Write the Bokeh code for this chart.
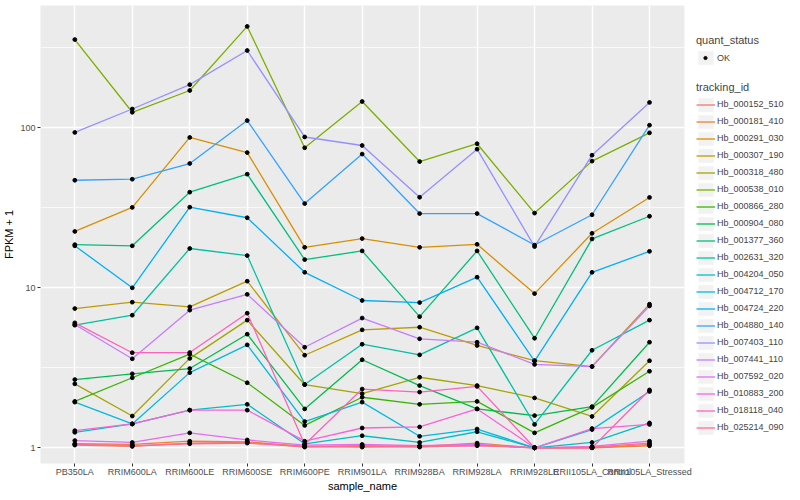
from bokeh.plotting import figure
from bokeh.layouts import row
from bokeh.models import (Range1d, FixedTicker, Legend, LegendItem, NumeralTickFormatter)
from bokeh.embed import file_html
from bokeh.resources import INLINE

samples = ["PB350LA", "RRIM600LA", "RRIM600LE", "RRIM600SE", "RRIM600PE", "RRIM901LA",
           "RRIM928BA", "RRIM928LA", "RRIM928LE", "RRII105LA_Control", "RRII105LA_Stressed"]

tracking_ids = ["Hb_000152_510", "Hb_000181_410", "Hb_000291_030", "Hb_000307_190",
                "Hb_000318_480", "Hb_000538_010", "Hb_000866_280", "Hb_000904_080",
                "Hb_001377_360", "Hb_002631_320", "Hb_004204_050", "Hb_004712_170",
                "Hb_004724_220", "Hb_004880_140", "Hb_007403_110", "Hb_007441_110",
                "Hb_007592_020", "Hb_010883_200", "Hb_018118_040", "Hb_025214_090"]

colors = ["#F8766D", "#EA8331", "#D89000", "#C09B00", "#A3A500", "#7CAE00", "#39B600",
          "#00BB4E", "#00BF7D", "#00C1A3", "#00BFC4", "#00BAE0", "#00B0F6", "#35A2FF",
          "#9590FF", "#C77CFF", "#E76BF3", "#FA62DB", "#FF62BC", "#FF6C91"]

Hb_000152_510 = [1.04, 1.02, 1.07, 1.08, 1.01, 1.02, 1.01, 1.04, 1.00, 1.00, 1.05]
Hb_000181_410 = [1.06, 1.05, 1.10, 1.09, 1.02, 1.03, 1.02, 1.07, 1.00, 1.00, 1.03]
Hb_000291_030 = [22.5, 31.8, 87.0, 70.0, 17.9, 20.3, 17.9, 18.7, 9.2, 21.9, 36.7]
Hb_000307_190 = [7.42, 8.13, 7.6, 11.0, 3.79, 5.46, 5.67, 4.36, 3.51, 3.22, 7.9]
Hb_000318_480 = [2.51, 1.58, 3.62, 6.28, 2.48, 2.18, 2.76, 2.45, 2.05, 1.57, 3.5]
Hb_000538_010 = [356.0, 125.0, 171.0, 430.0, 75.0, 146.0, 61.5, 79.5, 29.3, 61.9, 93.0]
Hb_000866_280 = [1.95, 2.74, 3.85, 2.55, 1.38, 2.07, 1.87, 1.95, 1.24, 1.79, 3.01]
Hb_000904_080 = [2.67, 2.9, 3.13, 5.13, 1.75, 3.55, 2.45, 1.75, 1.59, 1.81, 4.57]
Hb_001377_360 = [18.6, 18.3, 39.6, 51.3, 15.0, 17.0, 6.6, 17.0, 4.84, 20.2, 28.0]
Hb_002631_320 = [5.84, 6.74, 17.6, 15.9, 2.49, 4.44, 3.81, 5.62, 1.4, 4.07, 6.28]
Hb_004204_050 = [1.25, 1.41, 1.72, 1.87, 1.06, 1.19, 1.08, 1.26, 1.0, 1.08, 1.43]
Hb_004712_170 = [1.93, 1.41, 2.95, 4.4, 1.46, 1.93, 1.18, 1.31, 1.0, 1.30, 2.25]
Hb_004724_220 = [18.3, 10.0, 31.9, 27.4, 12.5, 8.33, 8.09, 11.65, 3.48, 12.5, 16.9]
Hb_004880_140 = [47.0, 47.7, 59.8, 111.0, 33.6, 68.5, 29.1, 29.1, 18.5, 28.6, 103.8]
Hb_007403_110 = [93.5, 131.0, 186.0, 304.0, 87.6, 77.5, 36.8, 73.5, 18.1, 67.4, 144.0]
Hb_007441_110 = [5.9, 3.6, 7.25, 9.1, 4.25, 6.47, 4.8, 4.57, 3.32, 3.22, 7.7]
Hb_007592_020 = [1.11, 1.08, 1.24, 1.12, 1.04, 1.05, 1.03, 1.05, 1.0, 1.02, 1.1]
Hb_010883_200 = [1.28, 1.41, 1.72, 1.72, 1.10, 1.33, 1.35, 1.75, 1.0, 1.32, 1.40]
Hb_018118_040 = [6.04, 3.93, 3.94, 6.94, 1.05, 2.33, 2.23, 2.42, 1.0, 1.0, 2.3]
Hb_025214_090 = [1.05, 1.03, 1.06, 1.07, 1.02, 1.01, 1.02, 1.03, 1.0, 1.01, 1.07]

series = [Hb_000152_510, Hb_000181_410, Hb_000291_030, Hb_000307_190, Hb_000318_480,
          Hb_000538_010, Hb_000866_280, Hb_000904_080, Hb_001377_360, Hb_002631_320,
          Hb_004204_050, Hb_004712_170, Hb_004724_220, Hb_004880_140, Hb_007403_110,
          Hb_007441_110, Hb_007592_020, Hb_010883_200, Hb_018118_040, Hb_025214_090]

y_ticks = [1, 10, 100]
y_minor = [0.3162, 3.162, 31.62, 316.2]

FONT = "Liberation Sans"
FW, FH = 644, 458
PX_PER_CAT = 57.47
X0 = -0.597

xs = list(range(len(samples)))
p = figure(frame_width=FW, frame_height=FH, y_axis_type="log",
           x_range=Range1d(X0, X0 + FW / PX_PER_CAT),
           y_range=Range1d(0.798, 581),
           output_backend="svg", toolbar_location=None,
           min_border_left=0, min_border_top=5, min_border_bottom=0, min_border_right=12,
           background_fill_color="#EBEBEB", border_fill_color="white")
p.outline_line_color = None

p.xgrid.ticker = FixedTicker(ticks=xs)
p.xgrid.grid_line_color = "white"
p.xgrid.grid_line_width = 1.4
p.ygrid.grid_line_color = "white"
p.ygrid.grid_line_width = 1.4
p.ygrid.minor_grid_line_color = "white"
p.ygrid.minor_grid_line_width = 0.7

p.xaxis.ticker = FixedTicker(ticks=xs)
p.xaxis.major_label_overrides = {i: s for i, s in enumerate(samples)}
p.yaxis.ticker = FixedTicker(ticks=y_ticks, minor_ticks=y_minor)
p.yaxis.formatter = NumeralTickFormatter(format="0")
for ax in (p.xaxis[0], p.yaxis[0]):
    ax.axis_line_color = None
    ax.major_tick_in = 0
    ax.major_tick_out = 3
    ax.major_tick_line_color = "#333333"
    ax.minor_tick_line_color = None
    ax.major_label_text_font = FONT
    ax.major_label_text_font_size = "9px"
    ax.major_label_text_color = "#4D4D4D"
    ax.axis_label_text_font = FONT
    ax.axis_label_text_font_size = "11px"
    ax.axis_label_text_font_style = "normal"
    ax.axis_label_text_color = "black"
p.xaxis.major_label_standoff = 0
p.xaxis.axis_label_standoff = 0
p.yaxis.major_label_standoff = 1
p.yaxis.axis_label_standoff = 2
p.xaxis.axis_label = "sample_name"
p.yaxis.axis_label = "FPKM + 1"

line_renderers = []
for vals, c in zip(series, colors):
    r = p.line(xs, vals, line_color=c, line_width=1.3)
    line_renderers.append(r)

all_x = [x for _ in series for x in xs]
all_y = [v for vals in series for v in vals]
p.scatter(all_x, all_y, size=3.8, color="black")

# ---- legend panel ----
LH = 484
lf = figure(width=96, height=LH, x_range=Range1d(0, 1), y_range=Range1d(0, 1),
            output_backend="svg", toolbar_location=None,
            x_axis_location=None, y_axis_location=None,
            min_border=0, min_border_left=0, min_border_right=0,
            min_border_top=0, min_border_bottom=0)
lf.outline_line_color = None
lf.xgrid.visible = False
lf.ygrid.visible = False

# off-screen placeholder glyphs (only their legend keys are seen)
OFF = [5.0]
bg = lf.rect(x=OFF, y=OFF, width=0.1, height=0.1, fill_color="#F2F2F2", line_color=None)
dot = lf.scatter(x=OFF, y=OFF, color="black")
key_lines = [lf.line(x=[5.0, 6.0], y=OFF * 2, line_color=c, line_width=1.3) for c in colors]


def style(leg, gw=19):
    leg.title_text_font = FONT
    leg.title_text_font_size = "11px"
    leg.title_text_font_style = "normal"
    leg.label_text_font = FONT
    leg.label_text_font_size = "9px"
    leg.glyph_width = gw
    leg.glyph_height = 17
    leg.label_height = 17
    leg.label_standoff = 2
    leg.spacing = 0
    leg.padding = 0
    leg.margin = 0
    leg.title_standoff = 3
    leg.border_line_color = None
    leg.background_fill_alpha = 0

SHIFT = 40


def vy(page_bottom):
    return LH - (page_bottom - 8) - SHIFT

leg_qbg = Legend(items=[LegendItem(label=" ", renderers=[bg])],
                 title="quant_status", location=(0, vy(65.3)))
style(leg_qbg)
lf.add_layout(leg_qbg, "center")
leg_q = Legend(items=[LegendItem(label="OK", renderers=[dot])], location=(5, vy(65.3)))
style(leg_q, gw=8)
leg_q.label_standoff = 8
lf.add_layout(leg_q, "center")

leg_t = Legend(items=[LegendItem(label=t, renderers=[bg, r]) for t, r in zip(tracking_ids, key_lines)],
               title="tracking_id", location=(0, vy(434.5)))
style(leg_t)
lf.add_layout(leg_t, "center")

open("out.html", "w").write(file_html(row(p, lf), INLINE))
